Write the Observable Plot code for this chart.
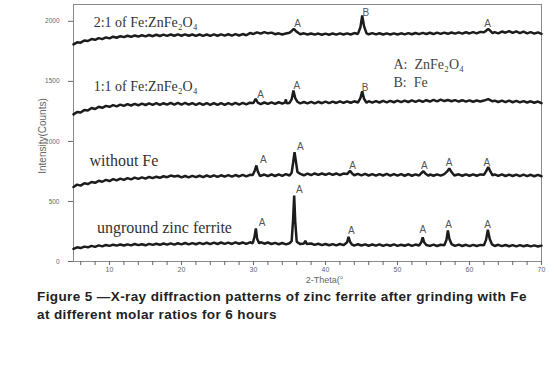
<!DOCTYPE html>
<html>
<head>
<meta charset="utf-8">
<script src="https://cdn.jsdelivr.net/npm/d3@7"></script>
<script src="https://cdn.jsdelivr.net/npm/@observablehq/plot@0.6"></script>
<style>
  html, body { margin: 0; padding: 0; background: #fff; }
  #wrap { position: relative; width: 554px; height: 370px; }
  #chart svg { display: block; background: linear-gradient(to right, #ffffff 32px, #f7f7f7 32px); }
  #caption { position: absolute; left: 37px; top: 288px; width: 515px;
    font-family: "Liberation Sans", Arial, sans-serif; font-weight: bold; font-size: 13.5px;
    letter-spacing: 0.4px; line-height: 17.5px; color: #222; }
</style>
</head>
<body>
<div id="wrap">
  <div id="chart"></div>
  <div id="caption">Figure 5 —X-ray diffraction patterns of zinc ferrite after grinding with Fe<br>at different molar ratios for 6 hours</div>
</div>
<script>
// ---- data (2-Theta in degrees, intensity in counts) ----
const ungroundData = [[5,105],[5.5,118],[6,112],[6.5,124],[7,118],[7.5,130],[8,122],[8.5,134],[9,126],[9.5,138],[10,130],[10.5,140],[11,132],[11.5,142],[12,133],[12.5,143],[13,134],[13.5,146],[14,136],[14.5,144],[15,135],[15.5,147],[16,138],[16.5,148],[17,139],[17.5,150],[18,140],[18.5,151],[19,141],[19.5,152],[20,143],[20.5,154],[21,142],[21.5,153],[22,144],[22.5,155],[23,145],[23.5,156],[24,144],[24.5,157],[25,146],[25.5,158],[26,147],[26.5,157],[27,146],[27.5,159],[28,148],[28.5,158],[29,147],[29.5,160],[29.9,152],[30.15,210],[30.33,275],[30.5,190],[30.8,150],[31,162],[31.5,148],[32,158],[32.5,146],[33,155],[33.5,144],[34,154],[34.5,143],[35,152],[35.3,170],[35.5,350],[35.65,550],[35.8,330],[36,165],[36.5,145],[37,150],[37.2,172],[37.4,146],[38,150],[38.5,138],[39,148],[39.5,136],[40,146],[40.5,135],[41,145],[41.5,134],[42,146],[42.5,136],[43,160],[43.2,205],[43.4,165],[43.7,140],[44,132],[44.5,144],[45,133],[45.5,143],[46,131],[46.5,142],[47,132],[47.5,143],[48,130],[48.5,141],[49,131],[49.5,142],[50,130],[50.5,140],[51,131],[51.5,142],[52,130],[52.5,141],[53,133],[53.3,160],[53.5,200],[53.7,160],[54,138],[54.5,130],[55,140],[55.5,129],[56,139],[56.5,135],[56.8,180],[57,258],[57.2,190],[57.5,145],[58,130],[58.5,140],[59,129],[59.5,139],[60,128],[60.5,138],[61,129],[61.5,138],[62,135],[62.3,180],[62.55,265],[62.8,190],[63.1,145],[63.5,129],[64,139],[64.5,128],[65,137],[65.5,127],[66,136],[66.5,126],[67,136],[67.5,127],[68,135],[68.5,126],[69,134],[69.5,125],[70,132]];

const withoutFeData = [[5,620],[5.5,640],[6,632],[6.5,652],[7,645],[7.5,662],[8,655],[8.5,672],[9,664],[9.5,680],[10,670],[10.5,686],[11,675],[11.5,690],[12,680],[12.5,694],[13,684],[13.5,698],[14,688],[14.5,700],[15,690],[15.5,704],[16,694],[16.5,706],[17,697],[17.5,710],[18,702],[18.5,716],[19,708],[19.5,714],[20,700],[20.5,712],[21,700],[21.5,713],[22,702],[22.5,714],[23,703],[23.5,716],[24,704],[24.5,717],[25,705],[25.5,718],[26,706],[26.5,719],[27,707],[27.5,720],[28,708],[28.5,721],[29,709],[29.5,722],[29.9,720],[30.2,760],[30.4,800],[30.6,750],[30.9,712],[31.5,724],[32,710],[32.5,725],[33,712],[33.5,726],[34,713],[34.5,727],[35,716],[35.3,740],[35.5,820],[35.7,911],[35.9,830],[36.1,745],[36.5,730],[37,718],[37.5,732],[38,720],[38.5,733],[39,721],[39.5,733],[40,722],[40.5,734],[41,721],[41.5,733],[42,720],[42.5,732],[43,728],[43.4,755],[43.7,732],[44,718],[44.5,730],[45,717],[45.5,729],[46,716],[46.5,728],[47,715],[47.5,728],[48,716],[48.5,729],[49,715],[49.5,728],[50,715],[50.5,727],[51,714],[51.5,727],[52,714],[52.5,726],[53,716],[53.3,735],[53.6,752],[53.9,730],[54.3,714],[54.5,726],[55,714],[55.5,726],[56,715],[56.5,728],[56.9,750],[57.2,775],[57.5,745],[57.9,716],[58.5,726],[59,714],[59.5,726],[60,714],[60.5,725],[61,714],[61.5,725],[62,722],[62.3,750],[62.6,786],[62.9,750],[63.2,718],[63.5,726],[64,713],[64.5,725],[65,712],[65.5,724],[66,712],[66.5,724],[67,711],[67.5,723],[68,711],[68.5,722],[69,710],[69.5,722],[70,710]];

const ratio11Data = [[5,1225],[5.5,1245],[6,1240],[6.5,1262],[7,1258],[7.5,1278],[8,1270],[8.5,1288],[9,1280],[9.5,1296],[10,1288],[10.5,1302],[11,1292],[11.5,1306],[12,1296],[12.5,1310],[13,1299],[13.5,1312],[14,1301],[14.5,1315],[15,1303],[15.5,1316],[16,1304],[16.5,1318],[17,1305],[17.5,1318],[18,1306],[18.5,1320],[19,1306],[19.5,1320],[20,1307],[20.5,1320],[21,1306],[21.5,1319],[22,1305],[22.5,1318],[23,1305],[23.5,1318],[24,1304],[24.5,1318],[25,1304],[25.5,1318],[26,1305],[26.5,1319],[27,1306],[27.5,1320],[28,1307],[28.5,1321],[29,1308],[29.5,1322],[30,1320],[30.3,1355],[30.6,1322],[31,1310],[31.5,1324],[32,1312],[32.5,1325],[33,1313],[33.5,1326],[34,1314],[34.4,1325],[34.5,1350],[34.6,1318],[35,1320],[35.3,1350],[35.55,1424],[35.8,1360],[36.1,1330],[36.5,1316],[37,1328],[37.5,1316],[38,1329],[38.5,1317],[39,1330],[39.5,1318],[40,1331],[40.5,1319],[41,1332],[41.5,1320],[42,1333],[42.5,1321],[43,1334],[43.5,1322],[44,1334],[44.5,1324],[44.85,1360],[45.1,1418],[45.35,1355],[45.7,1322],[46,1335],[46.5,1323],[47,1336],[47.5,1324],[48,1337],[48.5,1325],[49,1338],[49.5,1326],[50,1339],[50.5,1327],[51,1340],[51.5,1328],[52,1341],[52.5,1329],[53,1342],[53.5,1330],[54,1343],[54.5,1332],[55,1346],[55.5,1334],[56,1348],[56.5,1336],[57,1345],[57.5,1334],[58,1344],[58.5,1332],[59,1343],[59.5,1331],[60,1342],[60.5,1330],[61,1341],[61.5,1332],[62,1340],[62.6,1352],[63.2,1334],[63.5,1340],[64,1328],[64.5,1340],[65,1327],[65.5,1339],[66,1326],[66.5,1337],[67,1325],[67.5,1336],[68,1324],[68.5,1334],[69,1322],[69.5,1332],[70,1318]];

const ratio21Data = [[5,1808],[5.5,1825],[6,1822],[6.5,1840],[7,1836],[7.5,1852],[8,1846],[8.5,1860],[9,1852],[9.5,1866],[10,1858],[10.5,1872],[11,1863],[11.5,1876],[12,1868],[12.5,1880],[13,1871],[13.5,1882],[14,1873],[14.5,1884],[15,1875],[15.5,1886],[16,1876],[16.5,1888],[17,1878],[17.5,1889],[18,1879],[18.5,1890],[19,1880],[19.5,1891],[20,1880],[20.5,1891],[21,1880],[21.5,1890],[22,1879],[22.5,1890],[23,1879],[23.5,1890],[24,1879],[24.5,1891],[25,1880],[25.5,1891],[26,1881],[26.5,1892],[27,1881],[27.5,1893],[28,1882],[28.5,1894],[29,1884],[29.5,1902],[30,1895],[30.5,1908],[31,1898],[31.5,1910],[32,1900],[32.5,1906],[33,1893],[33.5,1900],[34,1890],[34.5,1898],[35,1905],[35.3,1920],[35.6,1937],[35.9,1918],[36.3,1900],[36.5,1892],[37,1900],[37.5,1890],[38,1899],[38.5,1889],[39,1898],[39.5,1888],[40,1898],[40.5,1888],[41,1899],[41.5,1889],[42,1900],[42.5,1890],[43,1900],[43.5,1890],[44,1902],[44.5,1895],[44.85,1950],[45.1,2048],[45.35,1960],[45.7,1900],[46,1892],[46.5,1902],[47,1891],[47.5,1901],[48,1890],[48.5,1900],[49,1890],[49.5,1900],[50,1890],[50.5,1900],[51,1891],[51.5,1902],[52,1892],[52.5,1903],[53,1893],[53.5,1904],[54,1894],[54.5,1905],[55,1894],[55.5,1906],[56,1895],[56.5,1906],[57,1896],[57.5,1907],[58,1897],[58.5,1908],[59,1898],[59.5,1909],[60,1899],[60.5,1910],[61,1900],[61.5,1912],[62,1908],[62.3,1922],[62.6,1937],[62.9,1920],[63.2,1902],[63.5,1910],[64,1900],[64.5,1915],[65,1905],[65.5,1918],[66,1903],[66.5,1916],[67,1902],[67.5,1914],[68,1900],[68.5,1910],[69,1898],[69.5,1908],[70,1896]];

// peak markers: letter, 2-Theta, counts (label anchor)
const peakLetters = ["A","A","A","A","A","A", "A","A","A","A","A","A", "A","A","B", "A","B","A"];
const peakTheta   = [31.2,36.35,43.57,53.53,57.08,62.5, 31.35,36.49,43.75,53.71,57.18,62.42, 30.97,36.03,45.51, 36.11,45.61,62.5];
const peakCounts  = [325,600,252,264,308,308, 849,952,794,799,824,824, 1388,1465,1446, 1979,2067,1979];

// sample names and their anchor positions (data units)
const sampleNames  = ["2:1 of Fe:ZnFe₂O₄", "1:1 of Fe:ZnFe₂O₄", "without Fe", "unground zinc ferrite"];
const sampleTheta  = [7.8, 7.8, 7.22, 8.25];
const sampleCounts = [1992, 1457, 835, 281];
const sampleSize   = [14, 14, 16, 16];

// legend
const legendLines  = ["A:  ZnFe₂O₄", "B:  Fe"];
const legendTheta  = [49.44, 49.44];
const legendCounts = [1640, 1493];

// axes
const xTicks = [6,8,10,12,14,16,18,20,22,24,26,28,30,32,34,36,38,40,42,44,46,48,50,52,54,56,58,60,62,64,66,68,70];
const xTickLabels = [10,20,30,40,50,60,70];
const yTicks = [0,500,1000,1500,2000];
const xLabel = "2-Theta(°";
const yLabel = "Intensity(Counts)";

const series = [ungroundData, withoutFeData, ratio11Data, ratio21Data];
const peaks = peakLetters.map((l, i) => ({l, x: peakTheta[i], y: peakCounts[i]}));
const samples = sampleNames.map((n, i) => ({n, x: sampleTheta[i], y: sampleCounts[i], s: sampleSize[i]}));
const legend = legendLines.map((n, i) => ({n, x: legendTheta[i], y: legendCounts[i]}));

const serif = "Liberation Serif, Times New Roman, serif";

const chart = Plot.plot({
  width: 554,
  height: 292,
  marginLeft: 73,
  marginRight: 13,
  marginTop: 4,
  marginBottom: 31,
  style: {background: "transparent", color: "#666", fontFamily: "Liberation Sans, Arial, sans-serif"},
  x: {domain: [5, 70]},
  y: {domain: [0, 2140]},
  marks: [
    Plot.frame({stroke: "#8a8a8a"}),
    Plot.axisX({ticks: xTicks, tickSize: 4, tickPadding: 2, fontSize: 7,
      tickFormat: d => xTickLabels.includes(d) ? String(d) : "", label: null}),
    Plot.axisY({ticks: yTicks, tickSize: 5, tickPadding: 9, fontSize: 6.5, tickFormat: d => String(d), label: null}),
    Plot.text([yLabel], {text: d => d, frameAnchor: "left", textAnchor: "middle", lineAnchor: "middle", dx: -30.5, dy: 3, rotate: -90, fontSize: 10, fill: "#666"}),
    Plot.text([xLabel], {text: d => d, frameAnchor: "bottom", textAnchor: "middle", lineAnchor: "middle", dx: 17, dy: 19, fontSize: 9, fill: "#666"}),
    ...series.map(s => Plot.line(s, {x: d => d[0], y: d => d[1], stroke: "#1c1c1c", strokeWidth: 2.5, strokeLinejoin: "miter"})),
    Plot.text(peaks, {x: "x", y: "y", text: "l", fontSize: 10, fill: "#555"}),
    Plot.text(samples, {x: "x", y: "y", text: "n", fontSize: d => d.s, textAnchor: "start", fill: "#333", fontFamily: serif}),
    Plot.text(legend, {x: "x", y: "y", text: "n", fontSize: 14, textAnchor: "start", fill: "#444", fontFamily: serif})
  ]
});
document.getElementById("chart").appendChild(chart);
</script>
</body>
</html>
